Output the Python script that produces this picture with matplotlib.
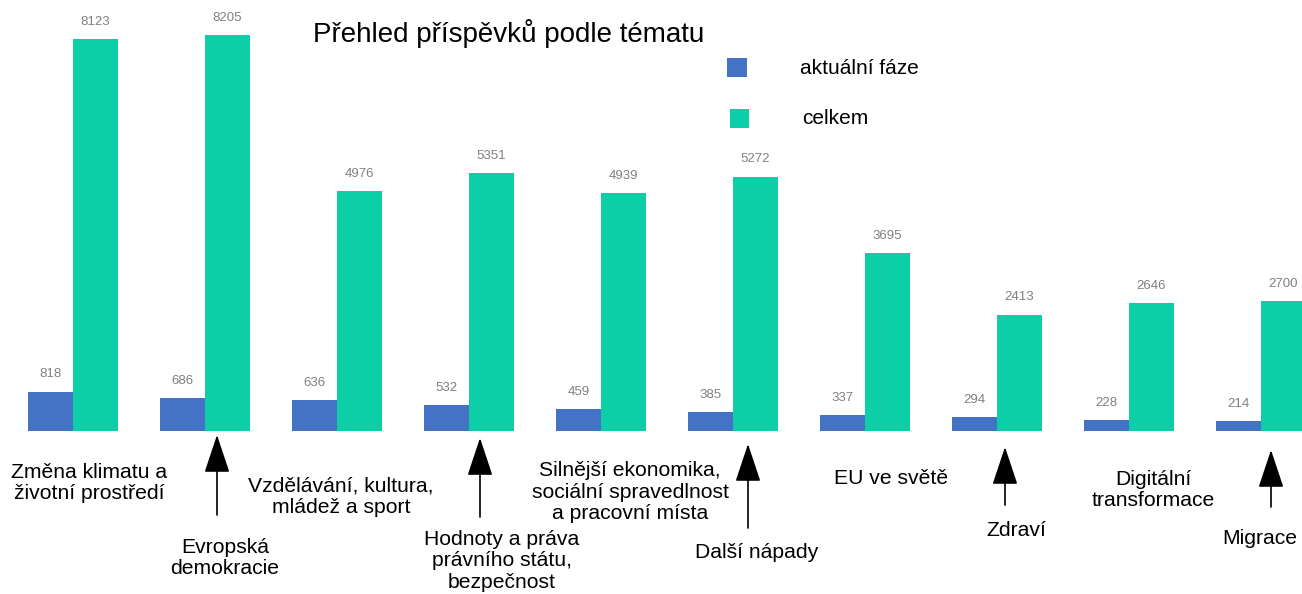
import matplotlib
matplotlib.use("Agg")
import matplotlib.pyplot as plt
from matplotlib.patches import Rectangle, FancyArrowPatch

plt.rcParams['font.family'] = ['Liberation Sans', 'DejaVu Sans']

categories = [
    "Změna klimatu a\nživotní prostředí",
    "Evropská\ndemokracie",
    "Vzdělávání, kultura,\nmládež a sport",
    "Hodnoty a práva\nprávního státu,\nbezpečnost",
    "Silnější ekonomika,\nsociální spravedlnost\na pracovní místa",
    "Další nápady",
    "EU ve světě",
    "Zdraví",
    "Digitální\ntransformace",
    "Migrace",
]
aktualni_faze = [818, 686, 636, 532, 459, 385, 337, 294, 228, 214]
celkem = [8123, 8205, 4976, 5351, 4939, 5272, 3695, 2413, 2646, 2700]
series_names = ["aktuální fáze", "celkem"]
title = "Přehled příspěvků podle tématu"

BLUE = "#4472C4"
TEAL = "#0CCFA8"

W, H = 1302, 594
fig = plt.figure(figsize=(W / 100, H / 100), dpi=100)

base_px = 431
ax = fig.add_axes([0, (H - base_px) / H, 1, base_px / H])
for s in ax.spines.values():
    s.set_visible(False)
ax.set_xticks([])
ax.set_yticks([])

spacing = 132.0
first_center = 73.0
ax.set_xlim((0 - first_center) / spacing, (W - first_center) / spacing)
ax.set_ylim(0, 8931)

bw = 45 / spacing
x = list(range(len(categories)))
b1 = ax.bar([i - bw / 2 for i in x], aktualni_faze, width=bw, color=BLUE)
b2 = ax.bar([i + bw / 2 for i in x], celkem, width=bw, color=TEAL)
for bars, vals in ((b1, aktualni_faze), (b2, celkem)):
    for r, v in zip(bars, vals):
        ax.annotate(str(v), (r.get_x() + r.get_width() / 2, r.get_height()),
                    xytext=(0, 8), textcoords="offset points",
                    ha="center", va="bottom", fontsize=9.5, color="#808080")


def fx(px):
    return px / W


def fy(py):
    return (H - py) / H


fig.text(fx(509), fy(33), title, ha="center", va="center", fontsize=20)

# legend
fig.add_artist(Rectangle((fx(727), fy(77)), 20 / W, 19 / H, transform=fig.transFigure,
                         color=BLUE, lw=0))
fig.add_artist(Rectangle((fx(730), fy(128)), 19 / W, 19 / H, transform=fig.transFigure,
                         color=TEAL, lw=0))
fig.text(fx(800), fy(69), series_names[0], ha="left", va="center", fontsize=15)
fig.text(fx(802), fy(118), series_names[1], ha="left", va="center", fontsize=15)

# category labels (x center px, y center px)
label_pos = [(89, 483), (225, 558), (341, 497), (502, 561), (630, 492),
             (757, 553), (891, 478), (1016, 530), (1153, 490), (1260, 538)]
for lab, (px, py) in zip(categories, label_pos):
    fig.text(fx(px), fy(py), lab, ha="center", va="center", fontsize=15.2,
             linespacing=1.15)

# arrows (x px, tip y px, tail y px)
arrows = [(217, 435, 515), (480, 438, 517), (748, 444, 528), (1005, 447, 505),
          (1271, 450, 507)]
for px, tip, tail in arrows:
    fig.add_artist(FancyArrowPatch(
        (fx(px), fy(tail)), (fx(px), fy(tip)), transform=fig.transFigure,
        arrowstyle="-|>,head_length=2.4,head_width=0.8", mutation_scale=10,
        lw=1.2, color="black", shrinkA=0, shrinkB=0))

fig.savefig("out.png", dpi=100)
